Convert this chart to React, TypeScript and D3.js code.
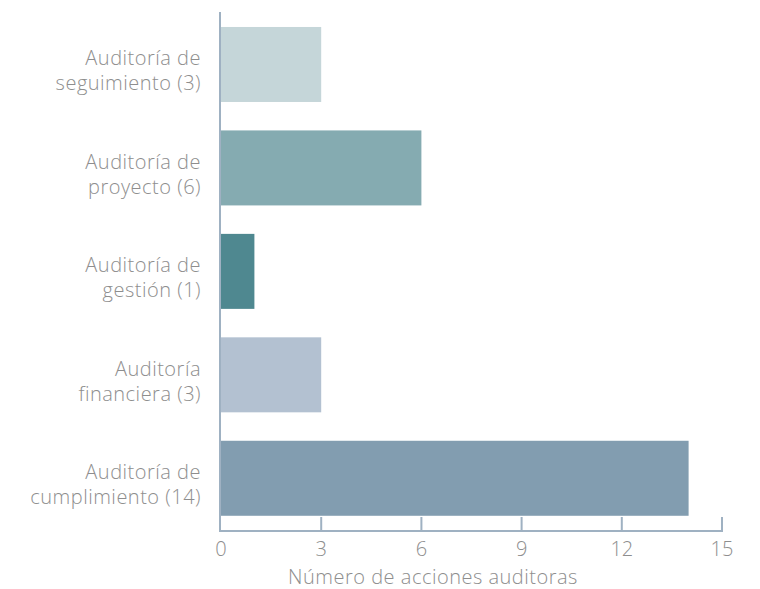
import React, { useEffect, useRef } from 'react';
import * as d3 from 'd3';

const categories = [
  ['Auditoría de', 'seguimiento (3)'],
  ['Auditoría de', 'proyecto (6)'],
  ['Auditoría de', 'gestión (1)'],
  ['Auditoría', 'financiera (3)'],
  ['Auditoría de', 'cumplimiento (14)'],
];
const values = [3, 6, 1, 3, 14];
const colors = ['#c5d6d9', '#85abb1', '#4f8890', '#b3c1d1', '#829db0'];
const ticks = [0, 3, 6, 9, 12, 15];
const axisTitle = 'Número de acciones auditoras';

const App = () => {
  const ref = useRef<SVGSVGElement>(null);

  useEffect(() => {
    const svg = d3.select(ref.current);
    svg.selectAll('*').remove();
    const width = 760;
    const height = 589;
    const left = 221;
    const right = 722;
    const top = 12.75;
    const bottom = 530;
    const font = "'Open Sans', sans-serif";
    const fontSize = '20px';
    const spacing = '0.5px';
    const textColor = '#8e8e8e';
    const axisColor = '#9fb1c2';

    svg.attr('width', width).attr('height', height);

    const x = d3.scaleLinear().domain([0, 15]).range([left, right]);
    const y = d3
      .scaleBand<number>()
      .domain(d3.range(values.length))
      .range([top, bottom])
      .paddingInner(0.275)
      .paddingOuter(0.1375);

    // bars
    svg
      .selectAll('.bar')
      .data(values)
      .enter()
      .append('rect')
      .attr('class', 'bar')
      .attr('x', x(0))
      .attr('y', (d, i) => y(i)!)
      .attr('width', (d) => x(d) - x(0))
      .attr('height', y.bandwidth())
      .attr('fill', (d, i) => colors[i]);

    // category labels
    const lab = svg
      .selectAll('.cat')
      .data(categories)
      .enter()
      .append('text')
      .attr('class', 'cat')
      .attr('text-anchor', 'end')
      .style('font-family', font)
      .style('font-size', fontSize)
      .style('font-weight', 300)
      .style('letter-spacing', spacing)
      .style('fill', textColor)
      .attr('transform', (d, i) => `translate(201,${y(i)! + y.bandwidth() / 2})`);
    lab
      .selectAll('tspan')
      .data((d) => d)
      .enter()
      .append('tspan')
      .attr('x', 0)
      .attr('y', (d, i) => (i === 0 ? 1 : 26))
      .text((d) => d);

    // axes lines
    const axisY = 531;
    svg
      .append('line')
      .attr('x1', 220)
      .attr('x2', 220)
      .attr('y1', 12)
      .attr('y2', axisY + 1)
      .attr('stroke', axisColor)
      .attr('stroke-width', 2);
    svg
      .append('line')
      .attr('x1', 219)
      .attr('x2', right + 1)
      .attr('y1', axisY)
      .attr('y2', axisY)
      .attr('stroke', axisColor)
      .attr('stroke-width', 2);

    svg
      .selectAll('.tick')
      .data(ticks)
      .enter()
      .append('line')
      .attr('class', 'tick')
      .attr('x1', (d) => (d === 0 ? 220 : x(d)))
      .attr('x2', (d) => (d === 0 ? 220 : x(d)))
      .attr('y1', axisY - 14)
      .attr('y2', axisY)
      .attr('stroke', axisColor)
      .attr('stroke-width', 2);

    svg
      .selectAll('.tickLabel')
      .data(ticks)
      .enter()
      .append('text')
      .attr('class', 'tickLabel')
      .attr('x', (d) => x(d))
      .attr('y', 556)
      .attr('text-anchor', 'middle')
      .style('font-family', font)
      .style('font-size', fontSize)
      .style('font-weight', 300)
      .style('fill', textColor)
      .text((d) => d);

    svg
      .append('text')
      .attr('x', 433)
      .attr('y', 584)
      .attr('text-anchor', 'middle')
      .style('font-family', font)
      .style('font-size', fontSize)
      .style('font-weight', 300)
      .style('letter-spacing', spacing)
      .style('fill', textColor)
      .text(axisTitle);
  }, []);

  return (
    <svg ref={ref} style={{ position: 'absolute', left: 0, top: 0 }}></svg>
  );
};

export default App;
